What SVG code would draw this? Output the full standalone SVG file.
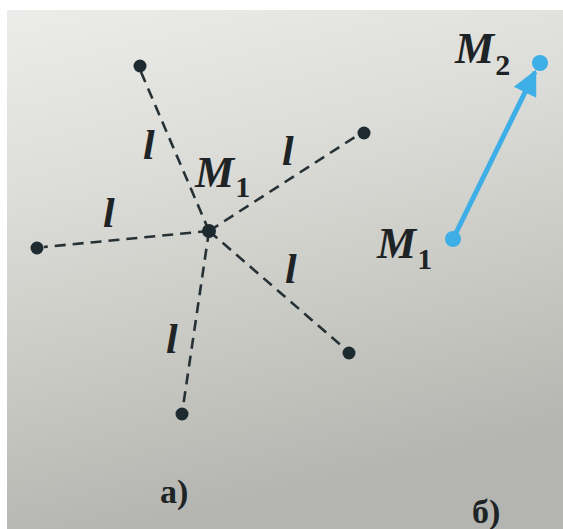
<svg xmlns="http://www.w3.org/2000/svg" width="563" height="529" viewBox="0 0 563 529">
  <defs>
    <linearGradient id="paper" x1="0" y1="0" x2="0.25" y2="1">
      <stop offset="0" stop-color="#ececea"/>
      <stop offset="0.35" stop-color="#dcdcd8"/>
      <stop offset="0.7" stop-color="#c8c8c3"/>
      <stop offset="1" stop-color="#b4b5b0"/>
    </linearGradient>
    <marker id="arrow" viewBox="0 0 10 10" refX="9" refY="5" markerWidth="7" markerHeight="5" markerUnits="strokeWidth" orient="auto">
      <path d="M0,0 L10,5 L0,10 Z" fill="#3eaee6"/>
    </marker>
  </defs>
  <style>
    .dash { stroke: #263135; stroke-width: 2.6; stroke-dasharray: 11 7; fill: none; }
    .dot { fill: #1d2b31; }
    .bdot { fill: #3eaee6; }
    .var { font-family: "Liberation Serif", "DejaVu Serif", serif; font-style: italic; font-weight: bold; fill: #1e2426; }
    .sub { font-style: normal; font-weight: bold; }
    .cap { font-family: "Liberation Serif", "DejaVu Serif", serif; font-weight: bold; fill: #1e2426; }
  </style>
  <rect x="0" y="0" width="563" height="529" fill="#ffffff"/>
  <rect x="7" y="10" width="556" height="519" fill="url(#paper)"/>

  <g id="connectors">
    <line class="dash" x1="209" y1="231" x2="141" y2="72"/>
    <line class="dash" x1="209" y1="231" x2="358" y2="135"/>
    <line class="dash" x1="209" y1="231" x2="44" y2="247"/>
    <line class="dash" x1="209" y1="231" x2="343" y2="347"/>
    <line class="dash" x1="209" y1="231" x2="183" y2="407"/>
    <line x1="453" y1="239" x2="535" y2="72" stroke="#3eaee6" stroke-width="5" marker-end="url(#arrow)"/>
  </g>

  <g id="center-M1">
    <circle class="dot" cx="209" cy="231" r="7"/>
    <text class="var" x="195" y="187" font-size="44">M<tspan class="sub" font-size="30" dx="1" dy="10">1</tspan></text>
  </g>
  <g id="p-topleft"><circle class="dot" cx="140" cy="66" r="6.5"/></g>
  <g id="p-topright"><circle class="dot" cx="364" cy="133" r="6.5"/></g>
  <g id="p-left"><circle class="dot" cx="37" cy="248" r="6.5"/></g>
  <g id="p-bottomright"><circle class="dot" cx="349" cy="353" r="6.5"/></g>
  <g id="p-bottom"><circle class="dot" cx="182" cy="414" r="6.5"/></g>

  <g id="labels-l">
    <text class="var" x="143" y="159" font-size="42">l</text>
    <text class="var" x="282" y="165" font-size="42">l</text>
    <text class="var" x="103" y="227" font-size="42">l</text>
    <text class="var" x="285" y="283" font-size="42">l</text>
    <text class="var" x="166" y="353" font-size="42">l</text>
  </g>

  <g id="b-M1">
    <circle class="bdot" cx="453" cy="239" r="8"/>
    <text class="var" x="377" y="258" font-size="44">M<tspan class="sub" font-size="30" dx="1" dy="11">1</tspan></text>
  </g>
  <g id="b-M2">
    <circle class="bdot" cx="540" cy="63" r="8"/>
    <text class="var" x="455" y="63" font-size="44">M<tspan class="sub" font-size="30" dx="1" dy="12">2</tspan></text>
  </g>

  <text class="cap" x="160" y="503" font-size="34">а)</text>
  <text class="cap" x="472" y="523" font-size="34">б)</text>
</svg>
